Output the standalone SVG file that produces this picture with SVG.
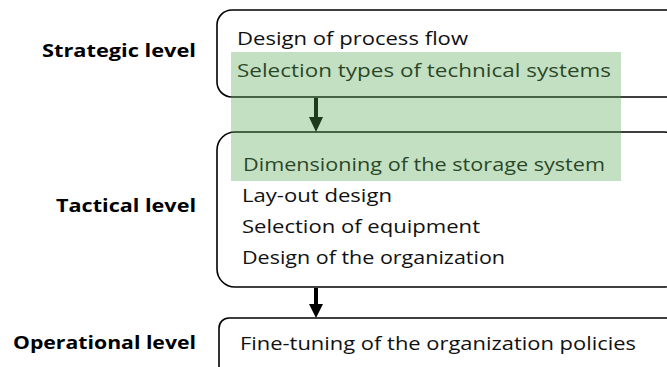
<svg xmlns="http://www.w3.org/2000/svg" width="667" height="367" viewBox="0 0 667 367">
<defs>
<style>
.box{fill:none;stroke:#000;stroke-width:1.6}
.t{font-family:"Open Sans","Liberation Sans",Arial,sans-serif;font-size:18px;fill:#111}
.lbl{font-family:"Open Sans","Liberation Sans",Arial,sans-serif;font-size:18px;font-weight:bold;fill:#000;text-anchor:end}
.arr{stroke:#000;stroke-width:4}
</style>
</defs>
<rect x="0" y="0" width="667" height="367" fill="#fff"/>
<g id="strategic">
<rect class="box" x="217" y="10" width="465" height="87" rx="15"/>
<text class="lbl" x="196" y="57" textLength="154" lengthAdjust="spacingAndGlyphs">Strategic level</text>
<text class="t" x="237" y="45" textLength="231" lengthAdjust="spacingAndGlyphs">Design of process flow</text>
<text class="t" x="237" y="77" textLength="374" lengthAdjust="spacingAndGlyphs">Selection types of technical systems</text>
</g>
<g id="tactical">
<rect class="box" x="217" y="132" width="465" height="155" rx="18"/>
<text class="lbl" x="196" y="212" textLength="140" lengthAdjust="spacingAndGlyphs">Tactical level</text>
<text class="t" x="243" y="171" textLength="362" lengthAdjust="spacingAndGlyphs">Dimensioning of the storage system</text>
<text class="t" x="242" y="202" textLength="150" lengthAdjust="spacingAndGlyphs">Lay-out design</text>
<text class="t" x="242" y="233" textLength="238" lengthAdjust="spacingAndGlyphs">Selection of equipment</text>
<text class="t" x="242" y="264" textLength="263" lengthAdjust="spacingAndGlyphs">Design of the organization</text>
</g>
<g id="operational">
<rect class="box" x="219" y="318" width="465" height="80" rx="10"/>
<text class="lbl" x="196" y="349" textLength="183" lengthAdjust="spacingAndGlyphs">Operational level</text>
<text class="t" x="240" y="350" textLength="396" lengthAdjust="spacingAndGlyphs">Fine-tuning of the organization policies</text>
</g>
<g id="connectors">
<line class="arr" x1="316" y1="98" x2="316" y2="118"/>
<path d="M309,117 L323,117 L316,132 Z" fill="#000"/>
<line class="arr" x1="316" y1="288" x2="316" y2="305"/>
<path d="M309,304 L323,304 L316,318 Z" fill="#000"/>
</g>
<g id="highlight"><rect x="231" y="52" width="390" height="129" fill="#56a650" fill-opacity="0.35"/></g>
</svg>
